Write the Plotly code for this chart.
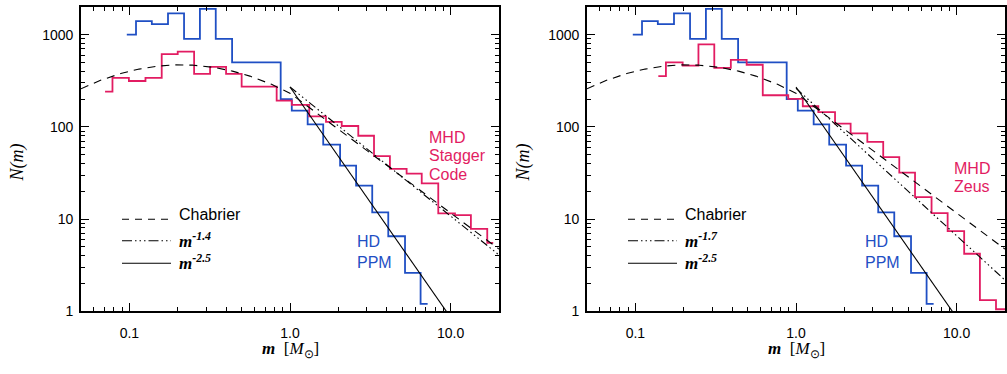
import numpy as np
import plotly.graph_objects as go

# ---------------- data ----------------
# HD PPM histogram (same in both panels): bin edges in M_sun and counts
hd_edges = [0.0964, 0.110, 0.138, 0.174, 0.219, 0.275, 0.345, 0.436, 0.875,
            1.026, 1.288, 1.61, 2.05, 2.58, 3.25, 4.09, 5.20, 6.50, 7.19]
hd_counts = [1000, 1400, 1300, 1700, 900, 1900, 900, 500, 200,
             150, 106, 64, 38, 23, 11.8, 6.5, 2.6, 1.2]

# MHD Stagger Code histogram (left panel)
stag_edges = [0.0706, 0.0785, 0.0993, 0.126, 0.159, 0.200, 0.253, 0.318, 0.400,
              0.500, 0.826, 1.026, 1.318, 1.675, 2.099, 2.661, 3.334, 4.188,
              5.321, 6.607, 8.375, 10.64, 13.37, 16.90, 18.41]
stag_counts = [241, 340, 314, 340, 613, 654, 375, 447, 375, 273, 192, 173,
               130, 113, 102, 80, 48, 35, 31, 24.4, 11.5, 11, 7.8, 5.5]

# MHD Zeus histogram (right panel)
zeus_edges = [0.139, 0.155, 0.197, 0.247, 0.310, 0.393, 0.493, 0.621, 0.895,
              1.102, 1.377, 1.750, 2.188, 2.780, 3.491, 4.395, 5.508, 6.98,
              8.79, 11.14, 13.96, 17.58, 20.0]
zeus_counts = [355, 500, 460, 782, 436, 532, 471, 220, 201, 167, 144, 108,
               85, 68.5, 47, 31.8, 17.3, 11.6, 7.4, 4.2, 1.32, 1.05]

# Chabrier reference IMF parameters
chab_peak = 470.0      # N at the lognormal peak
chab_mc = 0.21         # characteristic mass
chab_sigma = 0.57      # lognormal width (dex)
chab_slope = 1.3       # high-mass power-law slope
# power-law guide lines N = A * m^-slope (as drawn), starting at m = 1
pl_left = (270, 1.4)
pl_right = (262, 1.6)
pl_steep = (270, 2.5)
legend_left = ["Chabrier", "-1.4", "-2.5"]
legend_right = ["Chabrier", "-1.7", "-2.5"]

x_tickvals = [0.1, 1.0, 10.0]
x_ticktext = ["0.1", "1.0", "10.0"]
y_tickvals = [1, 10, 100, 1000]
y_ticktext = ["1", "10", "100", "1000"]

# ---------------- figure ----------------
W, H = 1007, 374
BLUE = "#1f4fc4"
RED = "#e21c62"


def px(x):
    return x / W


def py(y):
    return 1 - y / H


def step_xy(edges, counts):
    return list(edges), list(counts) + [counts[-1]]


m_all = np.logspace(np.log10(0.05), np.log10(20), 600)
lo = chab_peak * np.exp(-(np.log10(m_all) - np.log10(chab_mc)) ** 2 / (2 * chab_sigma ** 2))
n1 = chab_peak * np.exp(-(np.log10(chab_mc)) ** 2 / (2 * chab_sigma ** 2))
chab = np.where(m_all <= 1, lo, n1 * m_all ** (-chab_slope))
m_pl = np.logspace(0, np.log10(20), 100)

DASH = "8px,6px"
DDD = "8px,3px,1.5px,3px,1.5px,3px,1.5px,3px"

fig = go.Figure()
for xa, ya, edges, counts, pl in [("x", "y", stag_edges, stag_counts, pl_left),
                                  ("x2", "y2", zeus_edges, zeus_counts, pl_right)]:
    hx, hy = step_xy(hd_edges, hd_counts)
    fig.add_trace(go.Scatter(x=hx, y=hy, mode="lines", line_shape="hv",
                             line=dict(color=BLUE, width=1.8), xaxis=xa, yaxis=ya))
    rx, ry = step_xy(edges, counts)
    fig.add_trace(go.Scatter(x=rx, y=ry, mode="lines", line_shape="hv",
                             line=dict(color=RED, width=1.8), xaxis=xa, yaxis=ya))
    fig.add_trace(go.Scatter(x=m_all, y=chab, mode="lines",
                             line=dict(color="black", width=1.1, dash=DASH), xaxis=xa, yaxis=ya))
    fig.add_trace(go.Scatter(x=m_pl, y=pl[0] * m_pl ** (-pl[1]), mode="lines",
                             line=dict(color="black", width=1.1, dash=DDD), xaxis=xa, yaxis=ya))
    fig.add_trace(go.Scatter(x=m_pl, y=pl_steep[0] * m_pl ** (-pl_steep[1]), mode="lines",
                             line=dict(color="black", width=1.1), xaxis=xa, yaxis=ya))

x_minor = [v * d for d in (0.01, 0.1, 1, 10) for v in range(2, 10) if 0.05 <= v * d <= 20]
y_minor = [v * d for d in (1, 10, 100, 1000) for v in range(2, 10) if v * d <= 2000]

axis_common = dict(type="log", showline=True, linecolor="black", linewidth=1.6,
                   mirror="allticks", ticks="inside", ticklen=8, tickwidth=1,
                   tickcolor="black", showgrid=False, zeroline=False,
                   tickfont=dict(family="Liberation Sans", size=14, color="black"),
                   minor=dict(ticks="inside", ticklen=4, tickwidth=1, tickcolor="black",
                              tickmode="array", showgrid=False))

LX0, LX1, RX0, RX1, Y0, Y1 = 81, 499, 587, 1005, 7, 318
xa = dict(axis_common, range=[np.log10(0.05), np.log10(20)], tickmode="array",
          tickvals=x_tickvals, ticktext=x_ticktext, ticklabelstandoff=8)
xa["minor"] = dict(axis_common["minor"], tickvals=x_minor)
ya = dict(axis_common, range=[0, np.log10(2000)], tickmode="array",
          tickvals=y_tickvals, ticktext=y_ticktext, ticklabelstandoff=3)
ya["minor"] = dict(axis_common["minor"], tickvals=y_minor)

fig.update_layout(
    width=W, height=H, autosize=False, showlegend=False,
    margin=dict(l=0, r=0, t=0, b=0),
    paper_bgcolor="white", plot_bgcolor="white",
    xaxis=dict(xa, domain=[px(LX0), px(LX1)], anchor="y"),
    yaxis=dict(ya, domain=[py(Y1), py(Y0)], anchor="x"),
    xaxis2=dict(xa, domain=[px(RX0), px(RX1)], anchor="y2"),
    yaxis2=dict(ya, domain=[py(Y1), py(Y0)], anchor="x2"),
)

SANS = "Liberation Sans"
SERIF = "Liberation Serif"
ann = []


def text(x, y, s, color="black", size=16, family=SANS, **kw):
    d = dict(x=px(x), y=py(y), xref="paper", yref="paper", text=s, showarrow=False,
             xanchor=kw.pop("xanchor", "left"), yanchor=kw.pop("yanchor", "middle"),
             font=dict(family=family, size=size, color=color))
    d.update(kw)
    ann.append(d)


shapes = []
for off, leg in [(0, legend_left), (506, legend_right)]:
    # legend samples
    for yy, dash in [(224, "7px,6px"), (246, "10px,3px,1.5px,3px,1.5px,3px,1.5px,3px"), (269, "solid")]:
        shapes.append(dict(type="line", xref="paper", yref="paper",
                           x0=px(122 + off), x1=px(171 + off), y0=py(yy), y1=py(yy),
                           line=dict(color="black", width=1.1, dash=dash)))
    text(177 + off, 219, leg[0], size=16)
    text(177 + off, 245, "<b><i>m</i></b><sup><b><i>" + leg[1] + "</i></b></sup>", size=17, family=SERIF)
    text(177 + off, 268, "<b><i>m</i></b><sup><b><i>" + leg[2] + "</i></b></sup>", size=17, family=SERIF)
    # axis titles
    text(17 + off, 166, "<i>N(m)</i>", size=18, family=SERIF, textangle=-90, xanchor="center")
    text(290 + off, 358, "<b><i>m</i></b>  [<i>M</i><sub>⊙</sub>]", size=17, family=SERIF,
         xanchor="center")
    # HD label
    text(355 + off + (2 if off else 0), 247, "HD", color=BLUE)
    text(355 + off + (2 if off else 0), 268, "PPM", color=BLUE)

text(427, 140, "MHD", color=RED)
text(427, 159, "Stagger", color=RED)
text(427, 178, "Code", color=RED)
text(952, 172, "MHD", color=RED)
text(952, 191, "Zeus", color=RED)

fig.update_layout(annotations=ann, shapes=shapes)
fig.write_html("out.html")
